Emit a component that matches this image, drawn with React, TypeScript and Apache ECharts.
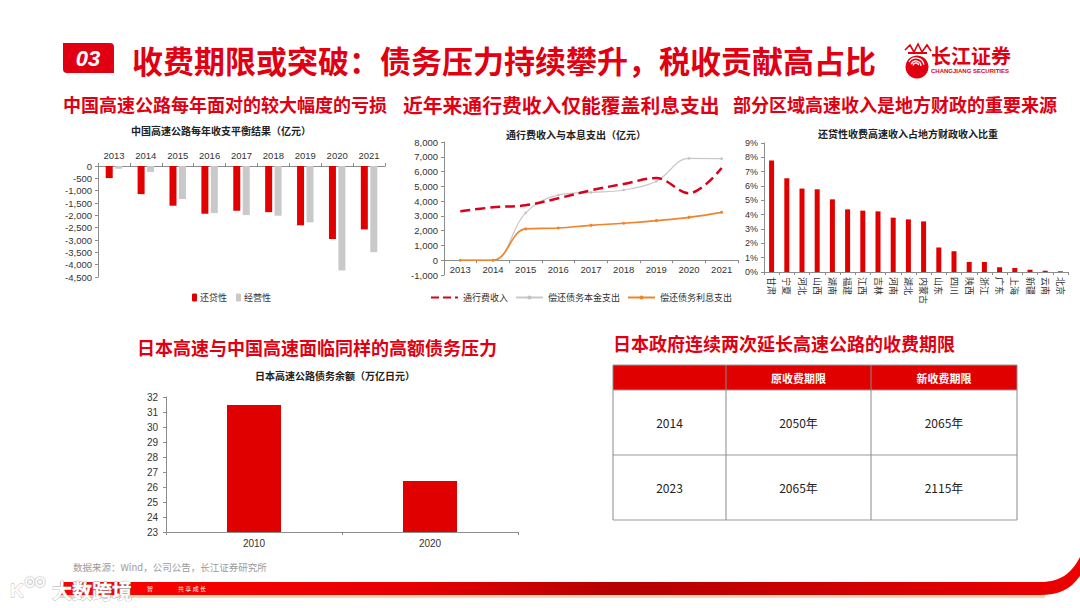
import React, { useEffect, useRef } from 'react';
import * as echarts from 'echarts';

// ---------- data ----------
const balanceYears = ['2013', '2014', '2015', '2016', '2017', '2018', '2019', '2020', '2021'];
const repayBalance = [-490, -1140, -1610, -1935, -1815, -1870, -2405, -2960, -2570];
const operBalance = [-110, -240, -1340, -1910, -1990, -2015, -2285, -4235, -3495];

const tollYears = ['2013', '2014', '2015', '2016', '2017', '2018', '2019', '2020', '2021'];
const tollIncome = [3310, 3580, 3720, 4190, 4730, 5160, 5560, 4530, 6240];
const principalPay = [0, 0, 3200, 4410, 4590, 4750, 5340, 6890, 6870];
const interestPay = [0, 0, 2120, 2180, 2360, 2500, 2680, 2900, 3240];

const provinces = ['甘肃', '宁夏', '河北', '山西', '湖南', '福建', '江西', '吉林', '河南', '湖北', '内蒙古', '山东', '四川', '陕西', '浙江', '广东', '上海', '新疆', '云南', '北京'];
const provinceShare = [7.78, 6.54, 5.82, 5.77, 5.07, 4.37, 4.28, 4.23, 3.79, 3.67, 3.53, 1.71, 1.45, 0.7, 0.7, 0.33, 0.28, 0.16, 0.09, 0.05];

const japanYears = ['2010', '2020'];
const japanDebt = [31.47, 26.4];

const tableHeader = ['', '原收费期限', '新收费期限'];
const tableRows = [
  ['2014', '2050年', '2065年'],
  ['2023', '2065年', '2115年'],
];

const mainTitle = '收费期限或突破：债务压力持续攀升，税收贡献高占比';
const headings = [
  '中国高速公路每年面对的较大幅度的亏损',
  '近年来通行费收入仅能覆盖利息支出',
  '部分区域高速收入是地方财政的重要来源',
  '日本高速与中国高速面临同样的高额债务压力',
  '日本政府连续两次延长高速公路的收费期限',
];
const chartTitles = [
  '中国高速公路每年收支平衡结果（亿元）',
  '通行费收入与本息支出（亿元）',
  '还贷性收费高速收入占地方财政收入比重',
  '日本高速公路债务余额（万亿日元）',
];
const sourceText = '数据来源：Wind，公司公告，长江证券研究所';

// ---------- style ----------
const RED = '#e00012';
const FONT_NUM = "'Liberation Sans', Arial, 'Noto Sans CJK SC', sans-serif";
const FONT_CJK = "'Noto Sans CJK SC', 'Liberation Sans', sans-serif";
const AX = '#8c8c8c';

// grid 2 geometry (line chart)
const G2_TOP = 142;
const G2_BOTTOM = 333;
const G2_MIN = -1000;
const G2_MAX = 8000;
const g2Height = 608 - G2_TOP - G2_BOTTOM;
const g2ZeroOffset = (g2Height * (0 - G2_MIN)) / (G2_MAX - G2_MIN);

echarts.graphic.registerShape(
  'swoosh',
  echarts.graphic.extendPath(
    'M60 582 L1040 582 C1062 582 1072 572 1080 557 L1080 576 C1070 590 1058 595 1040 595 L60 595 Z',
    {}
  )
);

function txt(text: string, x: number, y: number, o: any = {}) {
  const align = o.align || 'left';
  const valign = o.valign || 'middle';
  return {
    type: 'text',
    x,
    y,
    z: 10,
    style: {
      text,
      fill: o.fill || '#222',
      fontSize: o.size || 12,
      fontWeight: o.weight || 'normal',
      fontStyle: o.style || 'normal',
      fontFamily: o.family || FONT_CJK,
      align,
      textAlign: align,
      verticalAlign: valign,
      textVerticalAlign: valign,
      stroke: o.stroke,
      lineWidth: o.lineWidth,
    },
  };
}

function axisCommon(fontSize: number) {
  return {
    axisLine: { lineStyle: { color: AX, width: 1 } },
    axisTick: { show: true, length: 3, lineStyle: { color: AX } },
    axisLabel: { color: '#333', fontSize, fontFamily: FONT_NUM },
    splitLine: { show: false },
  };
}

const fmtComma = (v: number) => v.toLocaleString('en-US');

function buildGraphic() {
  const els: any[] = [];
  // title block
  els.push({ type: 'rect', shape: { x: 63, y: 43, width: 51, height: 30, r: [0, 4, 0, 4] }, style: { fill: RED } });
  els.push(txt('03', 88, 58.5, { align: 'center', fill: '#fff', size: 22, weight: 'bold', style: 'italic', family: FONT_NUM }));
  els.push(txt(mainTitle, 132, 59, { fill: RED, size: 31, weight: 'bold' }));

  // logo
  els.push({ type: 'circle', shape: { cx: 917, cy: 67, r: 11.5 }, style: { fill: RED } });
  [[5, 200, 360], [8, 210, 350], [3, 190, 340]].forEach(([r, s, e]) => {
    els.push({
      type: 'arc',
      shape: { cx: 916, cy: 66, r, startAngle: (s * Math.PI) / 180, endAngle: (e * Math.PI) / 180 },
      style: { stroke: '#fff', lineWidth: 1.3, fill: 'none' },
    });
  });
  els.push({
    type: 'polyline',
    shape: { points: [[905, 50], [910, 45], [914, 52], [918, 44], [922, 52], [927, 45], [931, 51]] },
    style: { stroke: RED, lineWidth: 1.6, fill: 'none' },
  });
  els.push({ type: 'rect', shape: { x: 908, y: 52, width: 19, height: 2 }, style: { fill: RED } });
  els.push(txt('长江证券', 931, 55, { fill: RED, size: 20, weight: 'bold' }));
  els.push(txt('CHANGJIANG SECURITIES', 931, 70.5, { fill: RED, size: 6, weight: 'bold', family: FONT_NUM }));

  // section headings
  els.push(txt(headings[0], 63, 104, { fill: RED, size: 18, weight: 'bold' }));
  els.push(txt(headings[1], 403, 104, { fill: RED, size: 19.8, weight: 'bold' }));
  els.push(txt(headings[2], 733, 104, { fill: RED, size: 18, weight: 'bold' }));
  els.push(txt(headings[3], 317, 347, { fill: RED, size: 18, weight: 'bold', align: 'center' }));
  els.push(txt(headings[4], 613, 343, { fill: RED, size: 18, weight: 'bold' }));

  // chart titles
  els.push(txt(chartTitles[0], 221, 130, { size: 10, weight: 'bold', align: 'center' }));
  els.push(txt(chartTitles[1], 576, 134, { size: 10, weight: 'bold', align: 'center' }));
  els.push(txt(chartTitles[2], 908, 133, { size: 10, weight: 'bold', align: 'center' }));
  els.push(txt(chartTitles[3], 335, 375, { size: 10, weight: 'bold', align: 'center' }));

  // table
  const colX = [613, 726, 871, 1017];
  const rowY = [365, 390, 455, 520];
  els.push({ type: 'rect', shape: { x: colX[0], y: rowY[0], width: colX[3] - colX[0], height: rowY[1] - rowY[0] }, style: { fill: '#e00000' } });
  rowY.forEach((y) => {
    els.push({ type: 'line', shape: { x1: colX[0], y1: y, x2: colX[3], y2: y }, style: { stroke: '#9a9a9a', lineWidth: 1 } });
  });
  colX.forEach((x) => {
    els.push({ type: 'line', shape: { x1: x, y1: rowY[0], x2: x, y2: rowY[3] }, style: { stroke: '#8a8a8a', lineWidth: 1 } });
  });
  tableHeader.forEach((h, c) => {
    if (h) els.push(txt(h, (colX[c] + colX[c + 1]) / 2, (rowY[0] + rowY[1]) / 2, { align: 'center', fill: '#fff', size: 11, weight: 'bold' }));
  });
  tableRows.forEach((row, r) => {
    row.forEach((cell, c) => {
      els.push(txt(cell, (colX[c] + colX[c + 1]) / 2, (rowY[r + 1] + rowY[r + 2]) / 2, { align: 'center', fill: '#222', size: 12 }));
    });
  });

  // source
  els.push(txt(sourceText, 73, 567, { fill: '#9a9a9a', size: 9.5 }));

  // bottom band
  els.push({ type: 'rect', shape: { x: 60, y: 594, width: 985, height: 4 }, style: { fill: '#f8d5b5' } });
  els.push({
    type: 'swoosh',
    x: 0,
    y: 0,
    style: {
      fill: new echarts.graphic.LinearGradient(0, 0, 1, 0, [
        { offset: 0, color: '#ff0000' },
        { offset: 0.35, color: '#e60000' },
        { offset: 0.55, color: '#b30000' },
        { offset: 0.8, color: '#d40000' },
        { offset: 1, color: '#ee0000' },
      ]),
    },
  });
  els.push(txt('智', 147, 588, { fill: '#fff', size: 6 }));
  els.push(txt('共 享 成 长', 178, 588, { fill: '#fff', size: 6 }));
  // watermark
  els.push({ type: 'circle', shape: { cx: 30, cy: 582, r: 4 }, style: { fill: 'none', stroke: '#fff', lineWidth: 1.6, shadowBlur: 2, shadowColor: '#888' } });
  els.push({ type: 'circle', shape: { cx: 40, cy: 582, r: 4 }, style: { fill: 'none', stroke: '#fff', lineWidth: 1.6, shadowBlur: 2, shadowColor: '#888' } });
  els.push(txt('K', 10, 590, { fill: '#fff', size: 19, weight: 'bold', family: FONT_NUM, stroke: '#bbb', lineWidth: 0.8 }));
  els.push(txt('大数跨境', 52, 590, { fill: '#fff', size: 20, weight: 'bold', stroke: '#aaa', lineWidth: 0.8 }));
  return els;
}

export default function App() {
  const ref = useRef<HTMLDivElement>(null);
  useEffect(() => {
    if (!ref.current) return;
    const chart = echarts.init(ref.current, undefined, { renderer: 'svg' });
    const option: any = {
      animation: false,
      backgroundColor: '#ffffff',
      grid: [
        { left: 98, right: 695, top: 166, bottom: 331 },
        { left: 444, right: 342, top: G2_TOP, bottom: G2_BOTTOM },
        { left: 764, right: 12, top: 143, bottom: 336 },
        { left: 166, right: 562, top: 397, bottom: 76 },
      ],
      legend: [
        {
          data: ['还贷性', '经营性'],
          left: 192,
          top: 293,
          padding: 0,
          itemWidth: 5,
          itemHeight: 8,
          itemGap: 9,
          textStyle: { fontSize: 9, color: '#333', fontFamily: FONT_CJK, padding: [0, 0, 0, -2] },
        },
        {
          data: [
            { name: '通行费收入', itemStyle: { opacity: 0 } },
            { name: '偿还债务本金支出' },
            { name: '偿还债务利息支出' },
          ],
          left: 430,
          top: 293,
          padding: 0,
          itemWidth: 27,
          itemHeight: 5,
          itemGap: 7,
          textStyle: { fontSize: 9, color: '#333', fontFamily: FONT_CJK },
        },
      ],
      xAxis: [
        {
          gridIndex: 0,
          type: 'category',
          position: 'top',
          data: balanceYears,
          ...axisCommon(9.5),
          axisLabel: { color: '#333', fontSize: 9.5, fontFamily: FONT_NUM, margin: 6 },
        },
        {
          gridIndex: 1,
          type: 'category',
          position: 'bottom',
          offset: -g2ZeroOffset,
          data: tollYears,
          ...axisCommon(9.5),
          axisLine: { onZero: false, lineStyle: { color: AX, width: 1 } },
          axisLabel: { color: '#333', fontSize: 9.5, fontFamily: FONT_NUM, margin: 5 },
        },
        {
          gridIndex: 2,
          type: 'category',
          data: provinces,
          ...axisCommon(9),
          axisLabel: { color: '#333', fontSize: 9, fontFamily: FONT_CJK, rotate: -90, interval: 0, margin: 5 },
        },
        {
          gridIndex: 3,
          type: 'category',
          data: japanYears,
          ...axisCommon(10),
          axisLabel: { color: '#333', fontSize: 10, fontFamily: FONT_NUM, margin: 6 },
        },
      ],
      yAxis: [
        {
          gridIndex: 0,
          type: 'value',
          min: -4500,
          max: 0,
          interval: 500,
          ...axisCommon(9.5),
          axisLine: { show: true, lineStyle: { color: AX } },
          axisLabel: { color: '#333', fontSize: 9.5, fontFamily: FONT_NUM, margin: 6, formatter: fmtComma },
        },
        {
          gridIndex: 1,
          type: 'value',
          min: G2_MIN,
          max: G2_MAX,
          interval: 1000,
          ...axisCommon(9.5),
          axisLine: { show: true, lineStyle: { color: AX } },
          axisLabel: { color: '#333', fontSize: 9.5, fontFamily: FONT_NUM, margin: 6, formatter: fmtComma },
        },
        {
          gridIndex: 2,
          type: 'value',
          min: 0,
          max: 9,
          interval: 1,
          ...axisCommon(9),
          axisLine: { show: true, lineStyle: { color: AX } },
          axisLabel: { color: '#333', fontSize: 9, fontFamily: FONT_NUM, margin: 6, formatter: '{value}%' },
        },
        {
          gridIndex: 3,
          type: 'value',
          min: 23,
          max: 32,
          interval: 1,
          ...axisCommon(10),
          axisLine: { show: true, lineStyle: { color: AX } },
          axisLabel: { color: '#333', fontSize: 10, fontFamily: FONT_NUM, margin: 8 },
        },
      ],
      series: [
        {
          name: '还贷性',
          type: 'bar',
          xAxisIndex: 0,
          yAxisIndex: 0,
          data: repayBalance,
          barWidth: 7,
          barGap: '35%',
          itemStyle: { color: '#e00000' },
        },
        {
          name: '经营性',
          type: 'bar',
          xAxisIndex: 0,
          yAxisIndex: 0,
          data: operBalance,
          barWidth: 7,
          barGap: '35%',
          itemStyle: { color: '#c9c9c9' },
        },
        {
          name: '通行费收入',
          type: 'line',
          xAxisIndex: 1,
          yAxisIndex: 1,
          data: tollIncome,
          smooth: 0.35,
          symbol: 'none',
          lineStyle: { color: '#d9001b', width: 2.5, type: 'dashed' },
          itemStyle: { color: '#d9001b' },
          z: 4,
        },
        {
          name: '偿还债务本金支出',
          type: 'line',
          xAxisIndex: 1,
          yAxisIndex: 1,
          data: principalPay,
          smooth: 0.4,
          symbol: 'circle',
          symbolSize: 2.5,
          lineStyle: { color: '#c8c8c8', width: 1.2 },
          itemStyle: { color: '#c0c0c0' },
          z: 3,
        },
        {
          name: '偿还债务利息支出',
          type: 'line',
          xAxisIndex: 1,
          yAxisIndex: 1,
          data: interestPay,
          smooth: 0.4,
          symbol: 'circle',
          symbolSize: 3,
          lineStyle: { color: '#f0842a', width: 1.6 },
          itemStyle: { color: '#f0842a' },
          z: 3,
        },
        {
          name: 'share',
          type: 'bar',
          xAxisIndex: 2,
          yAxisIndex: 2,
          data: provinceShare,
          barWidth: 5,
          itemStyle: { color: '#e00000' },
        },
        {
          name: 'japan',
          type: 'bar',
          xAxisIndex: 3,
          yAxisIndex: 3,
          data: japanDebt,
          barWidth: 54,
          itemStyle: { color: '#e00000' },
        },
      ],
      graphic: { elements: buildGraphic() },
    };
    chart.setOption(option);
    return () => chart.dispose();
  }, []);
  return <div ref={ref} style={{ position: 'absolute', left: 0, top: 0, width: 1080, height: 608 }} />;
}
